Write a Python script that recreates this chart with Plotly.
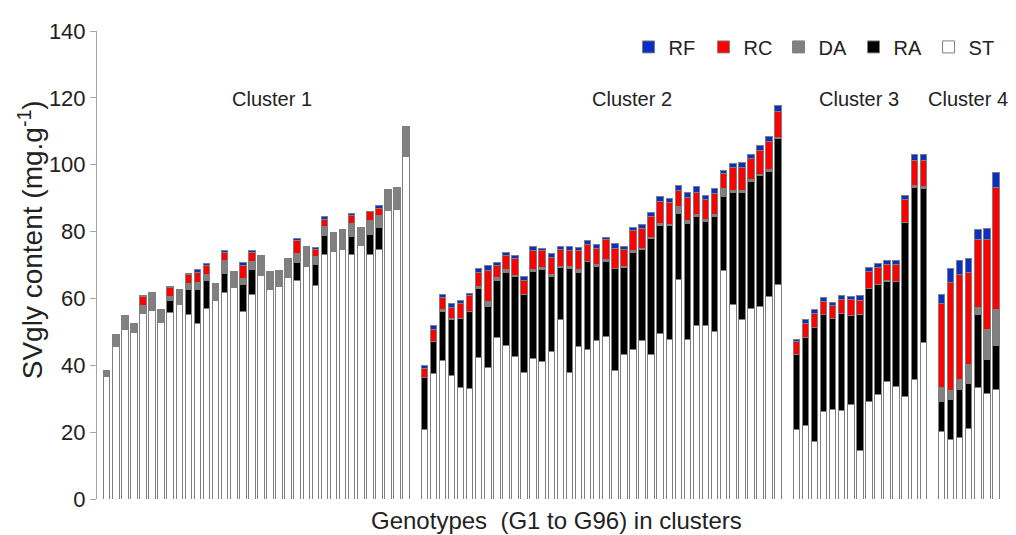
import plotly.graph_objects as go

cluster_names = ["Cluster 1", "Cluster 2", "Cluster 3", "Cluster 4"]
cluster_sizes = [34, 40, 15, 7]
# where the cluster captions sit (slot units, like the bars)
cluster_label_x = [18.2, 57.9, 82.9, 94.9]

# SVgly fractions (mg.g-1) per genotype, cluster by cluster
st = [36.5, 45.7, 50.8, 49.7, 55.4, 56.4, 52.9, 55.7, 58.2, 55.3, 52.4, 57.0, 59.5, 61.7, 63.2, 56.2, 61.1,
      66.9, 62.6, 63.6, 66.4, 65.3, 69.7, 63.8, 73.0, 74.1, 74.5, 73.2, 75.7, 73.2, 74.7, 86.2, 86.6, 102.5,
      20.9, 37.5, 41.4, 37.0, 33.4, 33.2, 42.4, 39.3, 48.4, 46.0, 42.6, 37.9, 41.9, 41.1, 44.2, 53.7, 37.8,
      45.5, 44.7, 47.5, 48.6, 38.4, 43.1, 44.8, 47.3, 43.3, 49.6, 47.6, 65.8, 47.6, 51.9, 51.9, 50.2, 68.5,
      58.2, 53.7, 57.0, 57.6, 60.5, 64.2,
      20.9, 22.1, 17.2, 26.3, 26.7, 26.5, 28.3, 14.5, 29.2, 31.2, 35.3, 33.8, 30.7, 35.6, 46.9,
      20.2, 17.7, 18.5, 21.1, 33.5, 31.7, 32.8]
ra = [0, 0, 0, 0, 0, 0, 0, 3.7, 0, 7.5, 10.4, 8.5, 0, 5.9, 0, 8.1, 7.6,
      0, 0, 0, 0, 5.5, 0, 6.4, 5.8, 0, 0, 5.4, 0, 5.9, 6.4, 0, 0, 0,
      15.3, 9.5, 14.6, 16.6, 20.7, 22.8, 20.6, 18.3, 16.9, 21.9, 23.9, 23.2, 26.2, 27.5, 22.5, 15.6, 31.3,
      22.4, 26.3, 22.2, 22.4, 30.7, 26.2, 28.8, 27.2, 34.6, 32.2, 34.2, 19.7, 34.9, 32.6, 31.1, 34.3, 22.0,
      33.5, 38.0, 37.9, 39.1, 37.4, 43.5,
      22.2, 26.3, 34.0, 28.9, 27.4, 28.9, 26.7, 40.7, 33.8, 32.9, 29.9, 31.2, 52.0, 57.6, 46.1,
      8.9, 12.2, 14.3, 13.4, 21.7, 9.9, 13.2]
da = [2.0, 3.5, 4.2, 2.8, 2.4, 5.3, 3.8, 1.2, 4.6, 1.8, 1.9, 1.7, 5.0, 3.8, 4.9, 1.6, 2.3,
      5.9, 5.5, 4.8, 5.5, 2.7, 5.8, 2.3, 2.8, 5.7, 6.0, 3.9, 5.5, 4.2, 3.7, 6.4, 6.6, 9.0,
      0, 0, 0.7, 0.3, 0, 0.2, 0.6, 1.5, 0.9, 0.7, 0.3, 0, 0.5, 0.6, 0.6, 0.4, 0.4,
      0.7, 0.1, 0.5, 0.6, 0, 0.4, 0.6, 0.5, 0.3, 0.6, 0.4, 1.9, 0.8, 0.5, 0.6, 0.5, 2.3,
      0.6, 0.6, 0.6, 0.4, 0.8, 0.5,
      0, 0, 0, 0, 0, 0, 0, 0, 0, 0, 0.3, 0, 0, 0.6, 0.6,
      4.2, 2.6, 3.0, 5.6, 2.2, 9.0, 10.7]
rc = [0, 0, 0, 0, 2.8, 0, 0, 2.7, 0, 2.5, 3.2, 2.7, 0, 2.2, 0, 4.0, 2.6,
      0, 0, 0, 0, 3.7, 0, 2.2, 2.1, 0, 0, 2.3, 0, 2.6, 2.2, 0, 0, 0,
      2.9, 3.7, 3.7, 3.5, 4.5, 4.6, 4.3, 9.3, 3.7, 4.2, 5.0, 4.2, 5.7, 5.0, 5.0, 4.8, 4.8,
      5.6, 5.0, 4.6, 5.9, 5.8, 5.0, 6.2, 5.9, 6.3, 6.7, 6.4, 4.9, 7.0, 6.8, 6.1, 6.5, 4.6,
      6.8, 7.0, 6.3, 7.1, 8.2, 7.7,
      3.9, 4.1, 4.4, 3.9, 3.8, 4.4, 4.8, 4.3, 5.2, 5.3, 4.7, 5.1, 6.8, 7.5, 7.7,
      25.1, 32.3, 31.3, 27.8, 20.3, 27.1, 36.5]
rf = [0, 0, 0, 0, 0.3, 0, 0, 0.2, 0, 0.5, 0.8, 0.6, 0, 0.6, 0, 0.9, 0.6,
      0, 0, 0, 0, 0.7, 0, 0.4, 0.9, 0, 0, 0.7, 0, 0.2, 0.9, 0, 0, 0,
      0.8, 1.1, 0.9, 1.0, 0.7, 0.8, 1.1, 1.4, 0.9, 0.8, 1.1, 1.2, 1.2, 0.8, 1.0, 1.1, 1.1,
      1.1, 1.1, 1.3, 0.8, 1.5, 0.9, 0.8, 1.2, 1.3, 1.4, 1.2, 1.4, 1.3, 1.6, 1.0, 1.5, 0.9,
      1.3, 1.5, 1.4, 1.4, 1.4, 1.7,
      0.7, 1.1, 1.1, 1.2, 0.8, 1.0, 0.9, 1.3, 1.2, 1.0, 1.1, 1.2, 1.3, 1.7, 1.7,
      2.9, 4.1, 4.2, 3.9, 2.9, 3.2, 4.4]

# one empty slot between clusters
x_pos = []
slot = 0
for size in cluster_sizes:
    x_pos += list(range(slot, slot + size))
    slot += size + 1
genotypes = [f"G{i + 1}" for i in range(len(st))]

series = [
    ("ST", st, "#ffffff"),
    ("RA", ra, "#000000"),
    ("DA", da, "#808080"),
    ("RC", rc, "#ff0000"),
    ("RF", rf, "#0a2fc4"),
]

fig = go.Figure()
for name, vals, color in series:
    fig.add_trace(
        go.Bar(
            x=x_pos,
            y=[v if v else None for v in vals],
            name=name,
            width=0.72,
            marker=dict(color=color, line=dict(color="#7f7f7f", width=1)),
            customdata=genotypes,
            hovertemplate="%{customdata}<br>" + name + ": %{y}<extra></extra>",
        )
    )

for label, lx in zip(cluster_names, cluster_label_x):
    fig.add_annotation(
        x=lx, y=119.6, text=label, showarrow=False,
        xanchor="center", yanchor="middle",
        font=dict(size=20, color="#222222"),
    )

# axis titles as annotations so they sit where the original has them
fig.add_annotation(
    text="SVgly content (mg.g<sup>-1</sup>)", textangle=-90,
    xref="paper", yref="paper", x=-0.0727, y=0.555,
    xanchor="center", yanchor="middle", showarrow=False,
    font=dict(size=28, color="#222222"),
)
fig.add_annotation(
    text="Genotypes\u00a0 (G1 to G96) in clusters",
    xref="paper", yref="paper", x=0.5066, y=-0.046,
    xanchor="center", yanchor="middle", showarrow=False,
    font=dict(size=24, color="#222222"),
)

# the page body has an 8px margin, so the figure is shrunk by that much
fig.update_layout(
    width=1008,
    height=527,
    barmode="stack",
    paper_bgcolor="white",
    plot_bgcolor="white",
    font=dict(family="Liberation Sans, Arial, sans-serif", color="#222222"),
    margin=dict(l=89, r=11, t=12, b=36),
    showlegend=True,
    legend=dict(
        orientation="h",
        traceorder="reversed",
        x=0.5854, xanchor="left",
        y=0.966, yanchor="middle",
        font=dict(size=20),
        bgcolor="rgba(0,0,0,0)",
        entrywidth=30,
        entrywidthmode="pixels",
    ),
    xaxis=dict(
        range=[-1.07, 99.0],
        showticklabels=False,
        showgrid=False,
        zeroline=False,
        showline=False,
        ticks="",
    ),
    yaxis=dict(
        range=[0, 140],
        dtick=20,
        showgrid=False,
        zeroline=False,
        showline=True,
        linecolor="#a6a6a6",
        linewidth=1,
        ticks="outside",
        ticklen=6,
        tickcolor="#a6a6a6",
        tickfont=dict(size=22),
    ),
)

fig.write_html("out.html")
